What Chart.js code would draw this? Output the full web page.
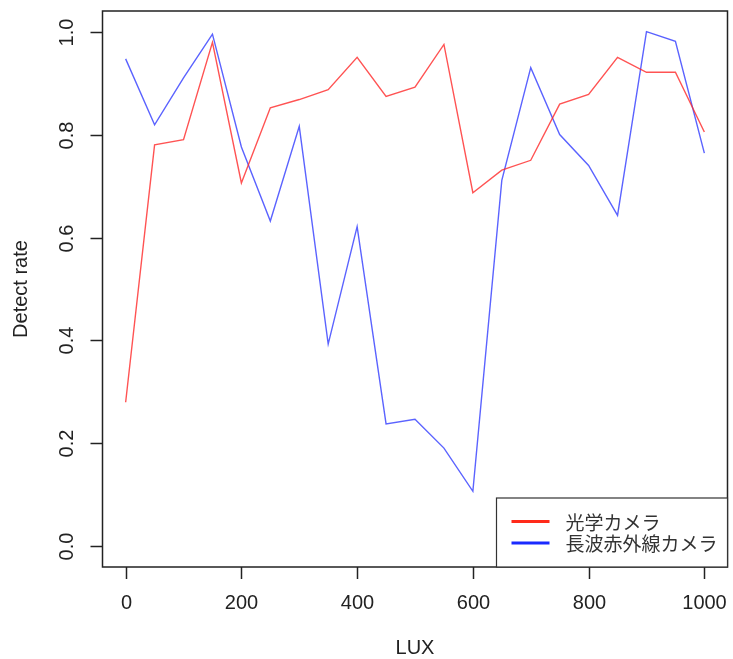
<!DOCTYPE html>
<html>
<head>
<meta charset="utf-8">
<script src="https://cdn.jsdelivr.net/npm/chart.js@4/dist/chart.umd.min.js"></script>
<style>
  html, body { margin: 0; padding: 0; background: #fff; }
  #wrap { width: 733px; height: 659px; }
</style>
</head>
<body>
<div id="wrap"><canvas id="rateChart" width="733" height="659"></canvas></div>
<script>
// detection rate per illuminance step
const lux = [0, 50, 100, 150, 200, 250, 300, 350, 400, 450, 500,
             550, 600, 650, 700, 750, 800, 850, 900, 950, 1000];
const opticalRate = [0.280, 0.780, 0.790, 0.979, 0.706, 0.852, 0.868, 0.887, 0.950, 0.874, 0.892,
                     0.975, 0.687, 0.731, 0.750, 0.859, 0.878, 0.950, 0.921, 0.921, 0.805];
const lwirRate = [0.947, 0.819, 0.910, 0.995, 0.776, 0.632, 0.816, 0.393, 0.621, 0.238, 0.247,
                  0.191, 0.107, 0.711, 0.930, 0.800, 0.740, 0.643, 1.000, 0.981, 0.764];
const seriesNames = ["光学カメラ", "長波赤外線カメラ"];

const xTicks = [0, 200, 400, 600, 800, 1000];
const yTicks = [0, 0.2, 0.4, 0.6, 0.8, 1.0];
const yTickLabels = ["0.0", "0.2", "0.4", "0.6", "0.8", "1.0"];
const xTitle = "LUX";
const yTitle = "Detect rate";

const FONT = '20px "Liberation Sans", Arial, sans-serif';
const LEGEND_FONT = '19px "Noto Sans CJK JP", sans-serif';

// base-graphics style frame: box, outward ticks, rotated y labels, legend
const framePlugin = {
  id: "frame",
  afterDraw(chart) {
    const { ctx, chartArea: a, scales } = chart;
    const xs = scales.x, ys = scales.y;
    ctx.save();
    ctx.strokeStyle = "#222";
    ctx.fillStyle = "#222";
    ctx.lineWidth = 1.5;

    // plot box
    ctx.strokeRect(a.left, a.top, a.right - a.left, a.bottom - a.top);

    // x axis ticks + labels
    ctx.font = FONT;
    ctx.textAlign = "center";
    ctx.textBaseline = "middle";
    xTicks.forEach(v => {
      const px = Math.round(xs.getPixelForValue(v)) + 0.5;
      ctx.beginPath();
      ctx.moveTo(px, a.bottom);
      ctx.lineTo(px, a.bottom + 12);
      ctx.stroke();
      ctx.fillText(String(v), px, a.bottom + 36);
    });

    // y axis ticks + rotated labels
    yTicks.forEach((v, i) => {
      const py = Math.round(ys.getPixelForValue(v)) + 0.5;
      ctx.beginPath();
      ctx.moveTo(a.left, py);
      ctx.lineTo(a.left - 12, py);
      ctx.stroke();
      ctx.save();
      ctx.translate(a.left - 35, py);
      ctx.rotate(-Math.PI / 2);
      ctx.fillText(yTickLabels[i], 0, 0);
      ctx.restore();
    });

    // axis titles
    ctx.fillText(xTitle, (a.left + a.right) / 2, 648);
    ctx.save();
    ctx.translate(21, (a.top + a.bottom) / 2);
    ctx.rotate(-Math.PI / 2);
    ctx.fillText(yTitle, 0, 0);
    ctx.restore();

    // legend, bottom right corner
    const lw = 231, lh = 69;
    const lx = a.right - lw, ly = a.bottom - lh;
    ctx.fillStyle = "#fff";
    ctx.fillRect(lx, ly, lw, lh);
    ctx.strokeStyle = "#333";
    ctx.lineWidth = 1.2;
    ctx.strokeRect(lx, ly, lw, lh);
    ctx.font = LEGEND_FONT;
    ctx.textAlign = "left";
    chart.data.datasets.forEach((ds, i) => {
      const yy = ly + 23.5 + i * 21.5;
      ctx.strokeStyle = ds.legendColor;
      ctx.lineWidth = 3;
      ctx.beginPath();
      ctx.moveTo(lx + 15, yy);
      ctx.lineTo(lx + 53, yy);
      ctx.stroke();
      ctx.fillStyle = "#333";
      ctx.fillText(ds.label, lx + 69, yy + 1);
    });
    ctx.restore();
  }
};

const ctx = document.getElementById("rateChart").getContext("2d");

new Chart(ctx, {
  type: "line",
  data: {
    datasets: [
      {
        label: seriesNames[0],
        data: lux.map((x, i) => ({ x, y: opticalRate[i] })),
        borderColor: "rgba(255,40,40,0.8)",
        legendColor: "#ff2a1a",
        borderWidth: 1.4,
        pointRadius: 0,
        tension: 0
      },
      {
        label: seriesNames[1],
        data: lux.map((x, i) => ({ x, y: lwirRate[i] })),
        borderColor: "rgba(50,60,255,0.8)",
        legendColor: "#1a2aff",
        borderWidth: 1.4,
        pointRadius: 0,
        tension: 0
      }
    ]
  },
  options: {
    responsive: false,
    animation: false,
    devicePixelRatio: 1,
    layout: { padding: { left: 102.5, right: 5.5, top: 11, bottom: 92 } },
    scales: {
      x: { type: "linear", min: -40, max: 1040, display: false },
      y: { type: "linear", min: -0.04, max: 1.04, display: false }
    },
    plugins: {
      legend: { display: false },
      tooltip: { enabled: false }
    }
  },
  plugins: [framePlugin]
});
</script>
</body>
</html>
